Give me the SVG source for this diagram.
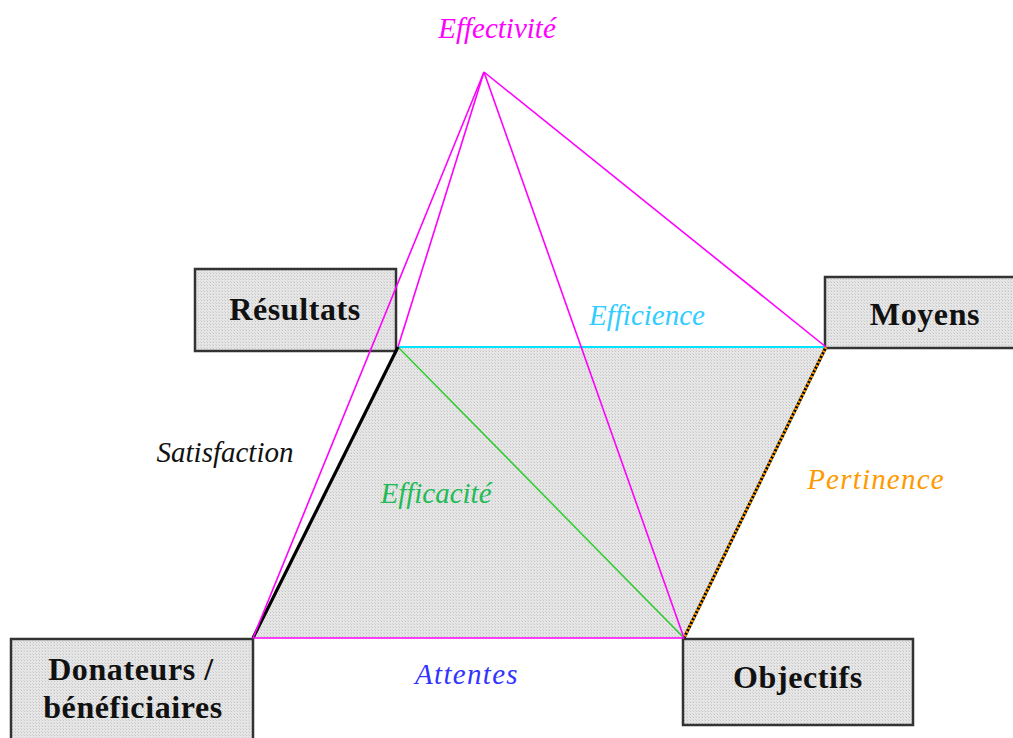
<svg xmlns="http://www.w3.org/2000/svg" width="1013" height="738" viewBox="0 0 1013 738">
<style>
.box{fill:url(#dots);stroke:#333;stroke-width:2.5}
.bt{font-family:"Liberation Serif",serif;font-weight:bold;font-size:32px;letter-spacing:0.6px;fill:#111;text-anchor:middle}
.lab{font-family:"Liberation Serif",serif;font-style:italic;font-size:29px;text-anchor:middle}
.mag{stroke:#ff00ff;stroke-width:1.6;fill:none}
</style>
<defs>
<pattern id="dots" width="3" height="3" patternUnits="userSpaceOnUse">
<rect width="3" height="3" fill="#e6e6e6"/>
<rect width="1" height="1" fill="#c4c4c4"/>
<rect x="2" y="2" width="1" height="1" fill="#d2d2d2"/>
</pattern>
</defs>
<rect width="1013" height="738" fill="#fff"/>
<polygon id="plane" points="398,347 826,347 684,638 253,638" fill="url(#dots)"/>
<g id="resultats"><rect class="box" x="195" y="269" width="201" height="82"/><text class="bt" x="295" y="320">Résultats</text></g>
<g id="moyens"><rect class="box" x="825" y="277" width="195" height="71"/><text class="bt" x="925" y="325">Moyens</text></g>
<g id="donateurs"><rect class="box" x="11" y="639" width="242" height="110"/><text class="bt" x="131" y="680">Donateurs /</text><text class="bt" x="133" y="718">bénéficiaires</text></g>
<g id="objectifs"><rect class="box" x="683" y="639" width="230" height="86"/><text class="bt" x="798" y="688">Objectifs</text></g>
<g id="connectors">
<line x1="398" y1="347" x2="826" y2="347" stroke="#00e5ff" stroke-width="2"/>
<line x1="398" y1="347" x2="684" y2="638" stroke="#33cc33" stroke-width="1.6"/>
<line x1="398" y1="347" x2="253" y2="638" stroke="#000" stroke-width="3.2"/>
<line x1="826" y1="347" x2="684" y2="638" stroke="#000" stroke-width="3"/>
<line x1="826" y1="347" x2="684" y2="638" stroke="#ff9900" stroke-width="3" stroke-dasharray="2 2"/>
<line class="mag" x1="253" y1="638" x2="684" y2="638"/>
<line class="mag" x1="484" y1="72" x2="253" y2="638"/>
<line class="mag" x1="484" y1="72" x2="398" y2="347"/>
<line class="mag" x1="484" y1="72" x2="684" y2="638"/>
<line class="mag" x1="484" y1="72" x2="826" y2="347"/>
</g>
<g id="labels">
<text class="lab" x="497" y="38" fill="#ff00ff">Effectivité</text>
<text class="lab" x="647" y="325" fill="#33ccff">Efficience</text>
<text class="lab" x="225" y="462" fill="#111">Satisfaction</text>
<text class="lab" x="436" y="503" fill="#22bb55">Efficacité</text>
<text class="lab" x="876" y="489" fill="#ff9900" font-size="32" letter-spacing="1.2">Pertinence</text>
<text class="lab" x="467" y="684" fill="#3333ff" font-size="31" letter-spacing="1.3">Attentes</text>
</g>
</svg>
